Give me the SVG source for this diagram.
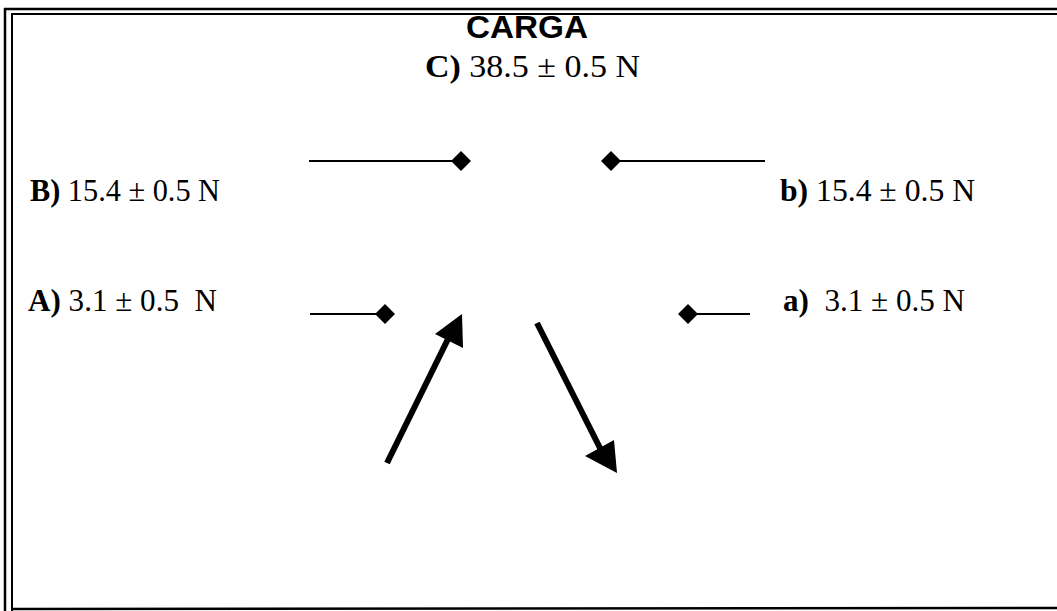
<svg xmlns="http://www.w3.org/2000/svg" width="1057" height="611" viewBox="0 0 1057 611">
<defs>
<style>
.frame{stroke:#000;fill:none}
.lbl{font-family:"Liberation Serif","Times New Roman",serif;font-size:31px;fill:#000}
.b{font-weight:bold}
.title{font-family:"Liberation Sans",Arial,sans-serif;font-size:32px;font-weight:bold;fill:#000}
.ln{stroke:#000;stroke-width:2;fill:none}
.dia{fill:#000}
.arr{stroke:#000;stroke-width:6;fill:none}
</style>
</defs>
<rect width="1057" height="611" fill="#fff"/>
<g id="frame">
<line class="frame" x1="4" y1="9" x2="1057" y2="9" stroke-width="2.5"/>
<line class="frame" x1="12" y1="14" x2="1057" y2="14" stroke-width="2"/>
<line class="frame" x1="5" y1="8" x2="5" y2="611" stroke-width="2.5"/>
<line class="frame" x1="12" y1="13" x2="12" y2="611" stroke-width="2"/>
<line class="frame" x1="12" y1="609" x2="1057" y2="608" stroke-width="2.5"/>
</g>
<g id="title"><text class="title" x="466" y="38" textLength="122" lengthAdjust="spacingAndGlyphs">CARGA</text></g>
<g id="C"><text class="lbl" x="425" y="77" textLength="215" lengthAdjust="spacingAndGlyphs"><tspan class="b">C)</tspan> 38.5 ± 0.5 N</text></g>
<g id="B"><text class="lbl" x="30" y="201" textLength="190" lengthAdjust="spacingAndGlyphs"><tspan class="b">B)</tspan> 15.4 ± 0.5 N</text></g>
<g id="b"><text class="lbl" x="780" y="201" textLength="195" lengthAdjust="spacingAndGlyphs"><tspan class="b">b)</tspan> 15.4 ± 0.5 N</text></g>
<g id="A"><text class="lbl" x="28" y="311" xml:space="preserve" textLength="189" lengthAdjust="spacingAndGlyphs"><tspan class="b">A)</tspan> 3.1 ± 0.5  N</text></g>
<g id="a"><text class="lbl" x="783" y="311" xml:space="preserve" textLength="182" lengthAdjust="spacingAndGlyphs"><tspan class="b">a)</tspan>  3.1 ± 0.5 N</text></g>
<g id="connectors">
<line class="ln" x1="309" y1="161" x2="455" y2="161"/>
<polygon class="dia" points="451,161 461,151 471,161 461,171"/>
<line class="ln" x1="612" y1="161" x2="765" y2="161"/>
<polygon class="dia" points="601,161 611,151 621,161 611,171"/>
<line class="ln" x1="310" y1="314" x2="380" y2="314"/>
<polygon class="dia" points="375,314 385,304 395,314 385,324"/>
<line class="ln" x1="690" y1="314" x2="750" y2="314"/>
<polygon class="dia" points="678,314 688,304 698,314 688,324"/>
<line class="arr" x1="387" y1="463" x2="449" y2="337"/>
<polygon class="dia" points="462,314 435,334 463,348"/>
<line class="arr" x1="537" y1="323" x2="602" y2="452"/>
<polygon class="dia" points="617,473 585,456 614,440"/>
</g>
</svg>
